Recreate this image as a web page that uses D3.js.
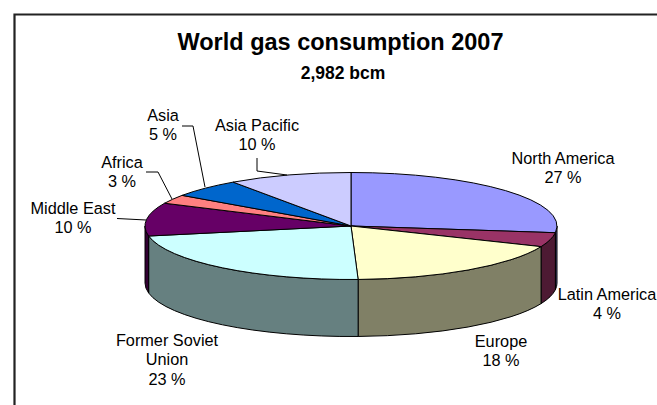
<!DOCTYPE html>
<html><head><meta charset="utf-8">
<script src="https://cdn.jsdelivr.net/npm/d3@7"></script>
<style>html,body{margin:0;padding:0;background:#fff}svg{display:block}text{font-family:"Liberation Sans",Arial,sans-serif;fill:#000}</style>
</head><body><div id="chart"></div>
<script>
const categories = ["North America","Latin America","Europe","Former Soviet Union","Middle East","Africa","Asia","Asia Pacific"];
const values = [27, 4.3, 18.15, 22.55, 10, 2.7, 5.6, 9.7];
const percentLabels = ["27 %","4 %","18 %","23 %","10 %","3 %","5 %","10 %"];
const topColors = ["#9999ff","#993366","#ffffcc","#ccffff","#660066","#ff8080","#0066cc","#ccccff"];
const sideColors = ["#4d4d80","#4d1a33","#808066","#668080","#330033","#804040","#003366","#666680"];

const W=657,H=405,cx=351,cy=226,rx=206,ry=53.5,depth=57;
const svg=d3.select("#chart").append("svg").attr("width",W).attr("height",H);
svg.append("path").attr("d","M14.5,405V14.5H657").attr("fill","none").attr("stroke","#222").attr("stroke-width",2.2);

svg.append("text").attr("x",340.5).attr("y",50).attr("text-anchor","middle").attr("font-size",23.5).attr("font-weight","bold").text("World gas consumption 2007");
svg.append("text").attr("x",343).attr("y",79).attr("text-anchor","middle").attr("font-size",17.5).attr("font-weight","bold").text("2,982 bcm");

const pie=d3.pie().sort(null).value(d=>d)(values);
const px=a=>cx+rx*Math.sin(a), py=(a,dy=0)=>cy-ry*Math.cos(a)+dy;
const wall=(a0,a1)=>`M${px(a0)},${py(a0)}A${rx},${ry} 0 0 1 ${px(a1)},${py(a1)}L${px(a1)},${py(a1,depth)}A${rx},${ry} 0 0 0 ${px(a0)},${py(a0,depth)}Z`;
const lo=Math.PI/2, hi=3*Math.PI/2;
pie.forEach((d,i)=>{
  const a0=Math.max(d.startAngle,lo),a1=Math.min(d.endAngle,hi);
  if(a1>a0) svg.append("path").attr("d",wall(a0,a1)).attr("fill",sideColors[i]).attr("stroke","#000").attr("stroke-width",1);
});
const arc=d3.arc().innerRadius(0).outerRadius(rx);
const topG=svg.append("g").attr("transform",`translate(${cx},${cy}) scale(1,${ry/rx})`);
topG.selectAll("path").data(pie).join("path").attr("d",arc).attr("fill",(d,i)=>topColors[i]).attr("stroke","#000").attr("stroke-width",1).attr("vector-effect","non-scaling-stroke");

const labelLayout=[
 {x:563,y:164},{x:607,y:300},{x:501,y:347},{x:167,y:346,lines:["Former Soviet","Union"]},
 {x:73,y:214},{x:122,y:168},{x:163,y:121},{x:257,y:131}];
labelLayout.forEach((l,i)=>{
  const lines=(l.lines||[categories[i]]).concat(percentLabels[i]);
  lines.forEach((s,j)=>svg.append("text").attr("x",l.x).attr("y",l.y+j*19.4).attr("text-anchor","middle").attr("font-size",16.3).text(s));
});
const leaders=[
 [[117,218.5],[146,220]],
 [[146,172],[158,172],[172,199]],
 [[182,126],[193,126],[205,187]],
 [[257,158],[257,171],[287,175]]];
leaders.forEach(p=>svg.append("path").attr("d",d3.line()(p)).attr("fill","none").attr("stroke","#000").attr("stroke-width",1));
</script></body></html>
